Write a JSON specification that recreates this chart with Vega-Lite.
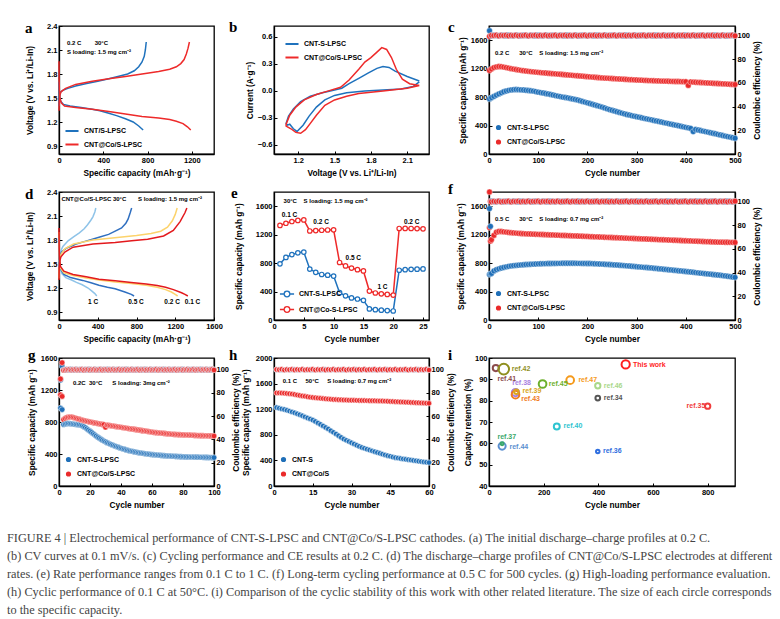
{
  "$schema": "https://vega.github.io/schema/vega-lite/v6.json",
  "padding": {"left": 7, "top": 19, "right": 5, "bottom": 5},
  "background": "white",
  "columns": 3,
  "spacing": {"row": 38, "column": 60},
  "bounds": "flush",
  "align": "each",
  "resolve": {"scale": {"color": "independent", "size": "independent"}, "legend": {"color": "independent", "size": "independent"}},
  "title": {
    "text": [
      "FIGURE 4  |  Electrochemical performance of CNT-S-LPSC and CNT@Co/S-LPSC cathodes. (a) The initial discharge–charge profiles at 0.2 C.",
      "(b) CV curves at 0.1 mV/s. (c) Cycling performance and CE results at 0.2 C. (d) The discharge–charge profiles of CNT@Co/S-LPSC electrodes at different",
      "rates. (e) Rate performance ranges from 0.1 C to 1 C. (f) Long-term cycling performance at 0.5 C for 500 cycles. (g) High-loading performance evaluation.",
      "(h) Cyclic performance of 0.1 C at 50°C. (i) Comparison of the cyclic stability of this work with other related literature. The size of each circle corresponds",
      "to the specific capacity."
    ],
    "orient": "bottom", "anchor": "start", "frame": "group", "dx": -52, "offset": 23,
    "font": "Liberation Serif", "fontSize": 12.3, "fontWeight": "normal", "color": "#444444",
    "lineHeight": 17.8, "baseline": "top"
  },
  "datasets": {
    "a": [
      {"s":"a","b":"d","c":0,"v":1.70},{"s":"a","b":"d","c":2,"v":1.58},{"s":"a","b":"d","c":5,"v":1.52},{"s":"a","b":"d","c":15,"v":1.46},{"s":"a","b":"d","c":40,"v":1.42},{"s":"a","b":"d","c":100,"v":1.40},{"s":"a","b":"d","c":200,"v":1.38},{"s":"a","b":"d","c":300,"v":1.36},{"s":"a","b":"d","c":370,"v":1.34},{"s":"a","b":"d","c":450,"v":1.31},{"s":"a","b":"d","c":520,"v":1.28},{"s":"a","b":"d","c":600,"v":1.24},{"s":"a","b":"d","c":670,"v":1.20},{"s":"a","b":"d","c":720,"v":1.15},{"s":"a","b":"d","c":760,"v":1.10},
      {"s":"a","b":"c","c":0,"v":1.40},{"s":"a","b":"c","c":3,"v":1.50},{"s":"a","b":"c","c":10,"v":1.57},{"s":"a","b":"c","c":40,"v":1.60},{"s":"a","b":"c","c":80,"v":1.62},{"s":"a","b":"c","c":150,"v":1.65},{"s":"a","b":"c","c":250,"v":1.68},{"s":"a","b":"c","c":350,"v":1.71},{"s":"a","b":"c","c":450,"v":1.74},{"s":"a","b":"c","c":550,"v":1.775},{"s":"a","b":"c","c":620,"v":1.80},{"s":"a","b":"c","c":680,"v":1.84},{"s":"a","b":"c","c":720,"v":1.89},{"s":"a","b":"c","c":750,"v":1.95},{"s":"a","b":"c","c":770,"v":2.02},{"s":"a","b":"c","c":780,"v":2.10},{"s":"a","b":"c","c":788,"v":2.20},
      {"s":"b","b":"d","c":0,"v":1.96},{"s":"b","b":"d","c":1,"v":1.75},{"s":"b","b":"d","c":3,"v":1.60},{"s":"b","b":"d","c":8,"v":1.50},{"s":"b","b":"d","c":20,"v":1.44},{"s":"b","b":"d","c":50,"v":1.40},{"s":"b","b":"d","c":150,"v":1.38},{"s":"b","b":"d","c":300,"v":1.36},{"s":"b","b":"d","c":450,"v":1.33},{"s":"b","b":"d","c":600,"v":1.30},{"s":"b","b":"d","c":750,"v":1.27},{"s":"b","b":"d","c":900,"v":1.25},{"s":"b","b":"d","c":1000,"v":1.23},{"s":"b","b":"d","c":1060,"v":1.21},{"s":"b","b":"d","c":1120,"v":1.18},{"s":"b","b":"d","c":1160,"v":1.14},{"s":"b","b":"d","c":1190,"v":1.10},
      {"s":"b","b":"c","c":0,"v":1.34},{"s":"b","b":"c","c":2,"v":1.45},{"s":"b","b":"c","c":6,"v":1.53},{"s":"b","b":"c","c":20,"v":1.58},{"s":"b","b":"c","c":60,"v":1.62},{"s":"b","b":"c","c":150,"v":1.67},{"s":"b","b":"c","c":300,"v":1.71},{"s":"b","b":"c","c":450,"v":1.74},{"s":"b","b":"c","c":600,"v":1.77},{"s":"b","b":"c","c":750,"v":1.80},{"s":"b","b":"c","c":900,"v":1.83},{"s":"b","b":"c","c":1000,"v":1.86},{"s":"b","b":"c","c":1060,"v":1.89},{"s":"b","b":"c","c":1100,"v":1.93},{"s":"b","b":"c","c":1130,"v":1.98},{"s":"b","b":"c","c":1150,"v":2.05},{"s":"b","b":"c","c":1165,"v":2.12},{"s":"b","b":"c","c":1178,"v":2.20}
    ],
    "b": [
      {"s":"a","v":2.20,"i":0.10},{"s":"a","v":2.15,"i":0.05},{"s":"a","v":2.05,"i":0.02},{"s":"a","v":1.90,"i":0.01},{"s":"a","v":1.75,"i":0.0},{"s":"a","v":1.60,"i":-0.02},{"s":"a","v":1.50,"i":-0.05},{"s":"a","v":1.42,"i":-0.10},{"s":"a","v":1.35,"i":-0.18},{"s":"a","v":1.29,"i":-0.28},{"s":"a","v":1.24,"i":-0.38},{"s":"a","v":1.19,"i":-0.45},{"s":"a","v":1.16,"i":-0.42},{"s":"a","v":1.13,"i":-0.37},{"s":"a","v":1.11,"i":-0.38},{"s":"a","v":1.10,"i":-0.36},{"s":"a","v":1.12,"i":-0.28},{"s":"a","v":1.16,"i":-0.20},{"s":"a","v":1.22,"i":-0.12},{"s":"a","v":1.30,"i":-0.06},{"s":"a","v":1.40,"i":-0.02},{"s":"a","v":1.50,"i":0.01},{"s":"a","v":1.56,"i":0.03},{"s":"a","v":1.62,"i":0.08},{"s":"a","v":1.70,"i":0.14},{"s":"a","v":1.78,"i":0.20},{"s":"a","v":1.85,"i":0.25},{"s":"a","v":1.90,"i":0.27},{"s":"a","v":1.95,"i":0.26},{"s":"a","v":2.00,"i":0.22},{"s":"a","v":2.10,"i":0.16},{"s":"a","v":2.20,"i":0.11},
      {"s":"b","v":2.20,"i":0.06},{"s":"b","v":2.10,"i":0.03},{"s":"b","v":1.90,"i":0.0},{"s":"b","v":1.70,"i":-0.03},{"s":"b","v":1.60,"i":-0.06},{"s":"b","v":1.50,"i":-0.10},{"s":"b","v":1.42,"i":-0.16},{"s":"b","v":1.35,"i":-0.27},{"s":"b","v":1.30,"i":-0.36},{"s":"b","v":1.26,"i":-0.43},{"s":"b","v":1.22,"i":-0.47},{"s":"b","v":1.18,"i":-0.46},{"s":"b","v":1.14,"i":-0.42},{"s":"b","v":1.10,"i":-0.39},{"s":"b","v":1.10,"i":-0.37},{"s":"b","v":1.13,"i":-0.27},{"s":"b","v":1.18,"i":-0.18},{"s":"b","v":1.25,"i":-0.10},{"s":"b","v":1.35,"i":-0.04},{"s":"b","v":1.45,"i":0.0},{"s":"b","v":1.55,"i":0.04},{"s":"b","v":1.62,"i":0.12},{"s":"b","v":1.70,"i":0.24},{"s":"b","v":1.75,"i":0.32},{"s":"b","v":1.80,"i":0.37},{"s":"b","v":1.85,"i":0.43},{"s":"b","v":1.89,"i":0.48},{"s":"b","v":1.93,"i":0.46},{"s":"b","v":1.97,"i":0.37},{"s":"b","v":2.01,"i":0.24},{"s":"b","v":2.06,"i":0.13},{"s":"b","v":2.12,"i":0.08},{"s":"b","v":2.20,"i":0.06}
    ],
    "c": [
      {"n":1,"a":775,"b":1175,"p":104,"q":99.2},{"n":5,"a":792,"b":1195,"p":99.8,"q":100.1},{"n":10,"a":810,"b":1215,"p":100.2,"q":99.9},{"n":15,"a":828,"b":1225,"p":100.0,"q":100.3},{"n":20,"a":845,"b":1230,"p":99.8,"q":99.7},{"n":25,"a":860,"b":1228,"p":100.2,"q":100.1},{"n":30,"a":875,"b":1222,"p":100.0,"q":99.9},{"n":35,"a":886,"b":1215,"p":99.8,"q":100.3},{"n":40,"a":895,"b":1208,"p":100.2,"q":99.7},{"n":45,"a":901,"b":1200,"p":100.0,"q":100.1},{"n":50,"a":905,"b":1194,"p":99.8,"q":99.9},
      {"n":55,"a":907,"b":1188,"p":100.2,"q":100.3},{"n":60,"a":905,"b":1182,"p":100.0,"q":99.7},{"n":65,"a":902,"b":1177,"p":99.8,"q":100.1},{"n":70,"a":900,"b":1172,"p":100.2,"q":99.9},{"n":75,"a":896,"b":1167,"p":100.0,"q":100.3},{"n":80,"a":893,"b":1163,"p":99.8,"q":99.7},{"n":85,"a":889,"b":1159,"p":100.2,"q":100.1},{"n":90,"a":885,"b":1155,"p":100.0,"q":99.9},{"n":95,"a":878,"b":1152,"p":99.8,"q":100.3},{"n":100,"a":870,"b":1148,"p":100.2,"q":99.7},
      {"n":105,"a":864,"b":1145,"p":100.0,"q":100.1},{"n":110,"a":858,"b":1142,"p":99.8,"q":99.9},{"n":115,"a":851,"b":1139,"p":100.2,"q":100.3},{"n":120,"a":845,"b":1136,"p":100.0,"q":99.7},{"n":125,"a":838,"b":1133,"p":99.8,"q":100.1},{"n":130,"a":830,"b":1130,"p":100.2,"q":99.9},{"n":135,"a":822,"b":1127,"p":100.0,"q":100.3},{"n":140,"a":815,"b":1124,"p":99.8,"q":99.7},{"n":145,"a":808,"b":1121,"p":100.2,"q":100.1},{"n":150,"a":800,"b":1118,"p":100.0,"q":99.9},
      {"n":155,"a":795,"b":1115,"p":99.8,"q":100.3},{"n":160,"a":790,"b":1112,"p":100.2,"q":99.7},{"n":165,"a":782,"b":1109,"p":100.0,"q":100.1},{"n":170,"a":775,"b":1106,"p":99.8,"q":99.9},{"n":175,"a":768,"b":1103,"p":100.2,"q":100.3},{"n":180,"a":760,"b":1100,"p":100.0,"q":99.7},{"n":185,"a":750,"b":1097,"p":99.8,"q":100.1},{"n":190,"a":740,"b":1094,"p":100.2,"q":99.9},{"n":195,"a":730,"b":1091,"p":100.0,"q":100.3},{"n":200,"a":720,"b":1088,"p":99.8,"q":99.7},
      {"n":205,"a":710,"b":1085,"p":100.2,"q":100.1},{"n":210,"a":700,"b":1082,"p":100.0,"q":99.9},{"n":215,"a":690,"b":1079,"p":99.8,"q":100.3},{"n":220,"a":680,"b":1076,"p":100.2,"q":99.7},{"n":225,"a":670,"b":1073,"p":100.0,"q":100.1},{"n":230,"a":660,"b":1070,"p":99.8,"q":99.9},{"n":235,"a":648,"b":1068,"p":100.2,"q":100.3},{"n":240,"a":635,"b":1066,"p":100.0,"q":99.7},{"n":245,"a":625,"b":1064,"p":99.8,"q":100.1},{"n":250,"a":615,"b":1062,"p":100.2,"q":99.9},
      {"n":255,"a":605,"b":1059,"p":100.0,"q":100.3},{"n":260,"a":595,"b":1057,"p":99.8,"q":99.7},{"n":265,"a":585,"b":1055,"p":100.2,"q":100.1},{"n":270,"a":575,"b":1053,"p":100.0,"q":99.9},{"n":275,"a":565,"b":1051,"p":99.8,"q":100.3},{"n":280,"a":555,"b":1049,"p":100.2,"q":99.7},{"n":285,"a":548,"b":1047,"p":100.0,"q":100.1},{"n":290,"a":540,"b":1045,"p":99.8,"q":99.9},{"n":295,"a":532,"b":1043,"p":100.2,"q":100.3},{"n":300,"a":525,"b":1041,"p":100.0,"q":99.7},
      {"n":305,"a":518,"b":1039,"p":99.8,"q":100.1},{"n":310,"a":510,"b":1038,"p":100.2,"q":99.9},{"n":315,"a":502,"b":1036,"p":100.0,"q":100.3},{"n":320,"a":495,"b":1035,"p":99.8,"q":99.7},{"n":325,"a":488,"b":1033,"p":100.2,"q":100.1},{"n":330,"a":480,"b":1032,"p":100.0,"q":99.9},{"n":335,"a":472,"b":1030,"p":99.8,"q":100.3},{"n":340,"a":465,"b":1029,"p":100.2,"q":99.7},{"n":345,"a":458,"b":1028,"p":100.0,"q":100.1},{"n":350,"a":450,"b":1026,"p":99.8,"q":99.9},
      {"n":355,"a":442,"b":1025,"p":100.2,"q":100.3},{"n":360,"a":435,"b":1024,"p":100.0,"q":99.7},{"n":365,"a":428,"b":1023,"p":99.8,"q":100.1},{"n":370,"a":420,"b":1022,"p":100.2,"q":99.9},{"n":375,"a":412,"b":1021,"p":100.0,"q":100.3},{"n":380,"a":405,"b":1020,"p":99.8,"q":99.7},{"n":385,"a":398,"b":1019,"p":100.2,"q":100.1},{"n":390,"a":390,"b":1018,"p":100.0,"q":99.9},{"n":395,"a":382,"b":1017,"p":99.8,"q":100.3},{"n":400,"a":375,"b":1016,"p":100.2,"q":99.7},
      {"n":405,"a":368,"b":965,"p":100.0,"q":100.1},{"n":410,"a":360,"b":1013,"p":99.8,"q":99.9},{"n":415,"a":315,"b":1011,"p":100.2,"q":100.3},{"n":420,"a":345,"b":1009,"p":100.0,"q":99.7},{"n":425,"a":338,"b":1007,"p":99.8,"q":100.1},{"n":430,"a":330,"b":1005,"p":100.2,"q":99.9},{"n":435,"a":322,"b":1003,"p":100.0,"q":100.3},{"n":440,"a":315,"b":1001,"p":99.8,"q":99.7},{"n":445,"a":308,"b":999,"p":100.2,"q":100.1},{"n":450,"a":300,"b":997,"p":100.0,"q":99.9},
      {"n":455,"a":292,"b":995,"p":99.8,"q":100.3},{"n":460,"a":285,"b":993,"p":100.2,"q":99.7},{"n":465,"a":276,"b":991,"p":100.0,"q":100.1},{"n":470,"a":268,"b":989,"p":99.8,"q":99.9},{"n":475,"a":260,"b":987,"p":100.2,"q":100.3},{"n":480,"a":252,"b":985,"p":100.0,"q":99.7},{"n":485,"a":245,"b":983,"p":99.8,"q":100.1},{"n":490,"a":238,"b":981,"p":100.2,"q":99.9},{"n":495,"a":230,"b":979,"p":100.0,"q":100.3},{"n":500,"a":222,"b":977,"p":99.8,"q":99.7}
    ],
    "d": [
      {"r":"1C","b":"d","c":0,"v":1.75},{"r":"1C","b":"d","c":3,"v":1.55},{"r":"1C","b":"d","c":10,"v":1.45},{"r":"1C","b":"d","c":30,"v":1.38},{"r":"1C","b":"d","c":70,"v":1.33},{"r":"1C","b":"d","c":130,"v":1.30},{"r":"1C","b":"d","c":180,"v":1.27},{"r":"1C","b":"d","c":240,"v":1.24},{"r":"1C","b":"d","c":300,"v":1.20},{"r":"1C","b":"d","c":340,"v":1.16},{"r":"1C","b":"d","c":370,"v":1.13},{"r":"1C","b":"d","c":390,"v":1.10},
      {"r":"1C","b":"c","c":0,"v":1.45},{"r":"1C","b":"c","c":3,"v":1.56},{"r":"1C","b":"c","c":10,"v":1.64},{"r":"1C","b":"c","c":40,"v":1.72},{"r":"1C","b":"c","c":94,"v":1.79},{"r":"1C","b":"c","c":150,"v":1.84},{"r":"1C","b":"c","c":210,"v":1.89},{"r":"1C","b":"c","c":260,"v":1.94},{"r":"1C","b":"c","c":295,"v":1.99},{"r":"1C","b":"c","c":330,"v":2.05},{"r":"1C","b":"c","c":350,"v":2.09},{"r":"1C","b":"c","c":370,"v":2.15},{"r":"1C","b":"c","c":380,"v":2.20},
      {"r":"05C","b":"d","c":0,"v":1.80},{"r":"05C","b":"d","c":3,"v":1.55},{"r":"05C","b":"d","c":15,"v":1.44},{"r":"05C","b":"d","c":50,"v":1.37},{"r":"05C","b":"d","c":120,"v":1.33},{"r":"05C","b":"d","c":244,"v":1.295},{"r":"05C","b":"d","c":330,"v":1.265},{"r":"05C","b":"d","c":412,"v":1.235},{"r":"05C","b":"d","c":500,"v":1.21},{"r":"05C","b":"d","c":579,"v":1.19},{"r":"05C","b":"d","c":680,"v":1.15},{"r":"05C","b":"d","c":746,"v":1.12},{"r":"05C","b":"d","c":775,"v":1.10},
      {"r":"05C","b":"c","c":0,"v":1.45},{"r":"05C","b":"c","c":3,"v":1.55},{"r":"05C","b":"c","c":10,"v":1.61},{"r":"05C","b":"c","c":27,"v":1.65},{"r":"05C","b":"c","c":80,"v":1.70},{"r":"05C","b":"c","c":177,"v":1.75},{"r":"05C","b":"c","c":260,"v":1.78},{"r":"05C","b":"c","c":345,"v":1.81},{"r":"05C","b":"c","c":430,"v":1.84},{"r":"05C","b":"c","c":512,"v":1.87},{"r":"05C","b":"c","c":580,"v":1.91},{"r":"05C","b":"c","c":646,"v":1.95},{"r":"05C","b":"c","c":690,"v":2.01},{"r":"05C","b":"c","c":713,"v":2.06},{"r":"05C","b":"c","c":735,"v":2.14},{"r":"05C","b":"c","c":750,"v":2.20},
      {"r":"02C","b":"d","c":0,"v":1.90},{"r":"02C","b":"d","c":2,"v":1.68},{"r":"02C","b":"d","c":5,"v":1.54},{"r":"02C","b":"d","c":15,"v":1.45},{"r":"02C","b":"d","c":50,"v":1.39},{"r":"02C","b":"d","c":145,"v":1.355},{"r":"02C","b":"d","c":280,"v":1.325},{"r":"02C","b":"d","c":412,"v":1.30},{"r":"02C","b":"d","c":580,"v":1.275},{"r":"02C","b":"d","c":746,"v":1.255},{"r":"02C","b":"d","c":900,"v":1.235},{"r":"02C","b":"d","c":1014,"v":1.21},{"r":"02C","b":"d","c":1100,"v":1.18},{"r":"02C","b":"d","c":1160,"v":1.15},{"r":"02C","b":"d","c":1200,"v":1.12},{"r":"02C","b":"d","c":1225,"v":1.10},
      {"r":"02C","b":"c","c":0,"v":1.32},{"r":"02C","b":"c","c":2,"v":1.45},{"r":"02C","b":"c","c":6,"v":1.55},{"r":"02C","b":"c","c":20,"v":1.62},{"r":"02C","b":"c","c":60,"v":1.69},{"r":"02C","b":"c","c":150,"v":1.75},{"r":"02C","b":"c","c":350,"v":1.80},{"r":"02C","b":"c","c":600,"v":1.83},{"r":"02C","b":"c","c":800,"v":1.855},{"r":"02C","b":"c","c":950,"v":1.88},{"r":"02C","b":"c","c":1050,"v":1.91},{"r":"02C","b":"c","c":1120,"v":1.96},{"r":"02C","b":"c","c":1170,"v":2.04},{"r":"02C","b":"c","c":1200,"v":2.12},{"r":"02C","b":"c","c":1220,"v":2.20},
      {"r":"01C","b":"d","c":0,"v":1.95},{"r":"01C","b":"d","c":2,"v":1.70},{"r":"01C","b":"d","c":5,"v":1.56},{"r":"01C","b":"d","c":15,"v":1.47},{"r":"01C","b":"d","c":50,"v":1.41},{"r":"01C","b":"d","c":145,"v":1.37},{"r":"01C","b":"d","c":280,"v":1.34},{"r":"01C","b":"d","c":412,"v":1.31},{"r":"01C","b":"d","c":580,"v":1.29},{"r":"01C","b":"d","c":746,"v":1.27},{"r":"01C","b":"d","c":900,"v":1.25},{"r":"01C","b":"d","c":1014,"v":1.23},{"r":"01C","b":"d","c":1100,"v":1.21},{"r":"01C","b":"d","c":1181,"v":1.18},{"r":"01C","b":"d","c":1265,"v":1.14},{"r":"01C","b":"d","c":1300,"v":1.12},{"r":"01C","b":"d","c":1330,"v":1.10},
      {"r":"01C","b":"c","c":0,"v":1.30},{"r":"01C","b":"c","c":2,"v":1.45},{"r":"01C","b":"c","c":6,"v":1.53},{"r":"01C","b":"c","c":20,"v":1.59},{"r":"01C","b":"c","c":60,"v":1.65},{"r":"01C","b":"c","c":145,"v":1.71},{"r":"01C","b":"c","c":350,"v":1.75},{"r":"01C","b":"c","c":580,"v":1.77},{"r":"01C","b":"c","c":750,"v":1.79},{"r":"01C","b":"c","c":915,"v":1.81},{"r":"01C","b":"c","c":1080,"v":1.85},{"r":"01C","b":"c","c":1180,"v":1.92},{"r":"01C","b":"c","c":1250,"v":2.03},{"r":"01C","b":"c","c":1300,"v":2.14},{"r":"01C","b":"c","c":1320,"v":2.20}
    ],
    "e": [
      {"n":1,"a":790,"b":1330},{"n":2,"a":880,"b":1360},{"n":3,"a":920,"b":1385},{"n":4,"a":945,"b":1400},{"n":5,"a":955,"b":1408},
      {"n":6,"a":716,"b":1252},{"n":7,"a":670,"b":1258},{"n":8,"a":640,"b":1262},{"n":9,"a":630,"b":1266},{"n":10,"a":618,"b":1268},
      {"n":11,"a":384,"b":809},{"n":12,"a":340,"b":760},{"n":13,"a":310,"b":730},{"n":14,"a":295,"b":708},{"n":15,"a":276,"b":690},
      {"n":16,"a":156,"b":407},{"n":17,"a":145,"b":380},{"n":18,"a":138,"b":368},{"n":19,"a":132,"b":360},{"n":20,"a":127,"b":351},
      {"n":21,"a":700,"b":1287},{"n":22,"a":708,"b":1288},{"n":23,"a":712,"b":1287},{"n":24,"a":715,"b":1285},{"n":25,"a":718,"b":1282}
    ],
    "f": [
      {"n":1,"a":640,"b":1300,"p":94,"q":108},{"n":3,"a":650,"b":1110,"p":79,"q":100.3},{"n":5,"a":655,"b":1130,"p":100.2,"q":99.7},{"n":10,"a":690,"b":1190,"p":100.0,"q":100.1},{"n":15,"a":708,"b":1235,"p":99.8,"q":99.9},{"n":20,"a":720,"b":1245,"p":100.2,"q":100.3},{"n":25,"a":731,"b":1245,"p":100.0,"q":99.7},{"n":30,"a":740,"b":1240,"p":99.8,"q":100.1},{"n":35,"a":748,"b":1236,"p":100.2,"q":99.9},{"n":40,"a":755,"b":1232,"p":100.0,"q":100.3},{"n":45,"a":760,"b":1228,"p":99.8,"q":99.7},{"n":50,"a":765,"b":1225,"p":100.2,"q":100.1},
      {"n":55,"a":768,"b":1222,"p":100.0,"q":99.9},{"n":60,"a":771,"b":1219,"p":99.8,"q":100.3},{"n":65,"a":774,"b":1216,"p":100.2,"q":99.7},{"n":70,"a":777,"b":1214,"p":100.0,"q":100.1},{"n":75,"a":780,"b":1212,"p":99.8,"q":99.9},{"n":80,"a":782,"b":1210,"p":100.2,"q":100.3},{"n":85,"a":784,"b":1209,"p":100.0,"q":99.7},{"n":90,"a":786,"b":1207,"p":99.8,"q":100.1},{"n":95,"a":788,"b":1206,"p":100.2,"q":99.9},{"n":100,"a":790,"b":1205,"p":100.0,"q":100.3},
      {"n":105,"a":791,"b":1203,"p":99.8,"q":99.7},{"n":110,"a":792,"b":1202,"p":100.2,"q":100.1},{"n":115,"a":793,"b":1200,"p":100.0,"q":99.9},{"n":120,"a":794,"b":1199,"p":99.8,"q":100.3},{"n":125,"a":795,"b":1197,"p":100.2,"q":99.7},{"n":130,"a":796,"b":1196,"p":100.0,"q":100.1},{"n":135,"a":796,"b":1194,"p":99.8,"q":99.9},{"n":140,"a":797,"b":1193,"p":100.2,"q":100.3},{"n":145,"a":797,"b":1191,"p":100.0,"q":99.7},{"n":150,"a":798,"b":1190,"p":99.8,"q":100.1},
      {"n":155,"a":798,"b":1188,"p":100.2,"q":99.9},{"n":160,"a":798,"b":1187,"p":100.0,"q":100.3},{"n":165,"a":798,"b":1185,"p":99.8,"q":99.7},{"n":170,"a":798,"b":1184,"p":100.2,"q":100.1},{"n":175,"a":798,"b":1182,"p":100.0,"q":99.9},{"n":180,"a":797,"b":1181,"p":99.8,"q":100.3},{"n":185,"a":797,"b":1179,"p":100.2,"q":99.7},{"n":190,"a":796,"b":1178,"p":100.0,"q":100.1},{"n":195,"a":796,"b":1176,"p":99.8,"q":99.9},{"n":200,"a":795,"b":1175,"p":100.2,"q":100.3},
      {"n":205,"a":794,"b":1173,"p":100.0,"q":99.7},{"n":210,"a":793,"b":1172,"p":99.8,"q":100.1},{"n":215,"a":791,"b":1170,"p":100.2,"q":99.9},{"n":220,"a":790,"b":1169,"p":100.0,"q":100.3},{"n":225,"a":788,"b":1167,"p":99.8,"q":99.7},{"n":230,"a":786,"b":1166,"p":100.2,"q":100.1},{"n":235,"a":784,"b":1164,"p":100.0,"q":99.9},{"n":240,"a":782,"b":1163,"p":99.8,"q":100.3},{"n":245,"a":780,"b":1161,"p":100.2,"q":99.7},{"n":250,"a":778,"b":1160,"p":100.0,"q":100.1},
      {"n":255,"a":775,"b":1158,"p":99.8,"q":99.9},{"n":260,"a":773,"b":1157,"p":100.2,"q":100.3},{"n":265,"a":770,"b":1155,"p":100.0,"q":99.7},{"n":270,"a":768,"b":1154,"p":99.8,"q":100.1},{"n":275,"a":765,"b":1152,"p":100.2,"q":99.9},{"n":280,"a":762,"b":1151,"p":100.0,"q":100.3},{"n":285,"a":759,"b":1149,"p":99.8,"q":99.7},{"n":290,"a":756,"b":1148,"p":100.2,"q":100.1},{"n":295,"a":753,"b":1146,"p":100.0,"q":99.9},{"n":300,"a":750,"b":1145,"p":99.8,"q":100.3},
      {"n":305,"a":747,"b":1143,"p":100.2,"q":99.7},{"n":310,"a":744,"b":1142,"p":100.0,"q":100.1},{"n":315,"a":741,"b":1140,"p":99.8,"q":99.9},{"n":320,"a":738,"b":1139,"p":100.2,"q":100.3},{"n":325,"a":735,"b":1137,"p":100.0,"q":99.7},{"n":330,"a":732,"b":1136,"p":99.8,"q":100.1},{"n":335,"a":728,"b":1134,"p":100.2,"q":99.9},{"n":340,"a":725,"b":1133,"p":100.0,"q":100.3},{"n":345,"a":721,"b":1131,"p":99.8,"q":99.7},{"n":350,"a":718,"b":1130,"p":100.2,"q":100.1},
      {"n":355,"a":714,"b":1128,"p":100.0,"q":99.9},{"n":360,"a":711,"b":1127,"p":99.8,"q":100.3},{"n":365,"a":707,"b":1125,"p":100.2,"q":99.7},{"n":370,"a":704,"b":1124,"p":100.0,"q":100.1},{"n":375,"a":700,"b":1122,"p":99.8,"q":99.9},{"n":380,"a":697,"b":1121,"p":100.2,"q":100.3},{"n":385,"a":693,"b":1119,"p":100.0,"q":99.7},{"n":390,"a":690,"b":1118,"p":99.8,"q":100.1},{"n":395,"a":686,"b":1116,"p":100.2,"q":99.9},{"n":400,"a":682,"b":1115,"p":100.0,"q":100.3},
      {"n":405,"a":678,"b":1113,"p":99.8,"q":99.7},{"n":410,"a":675,"b":1112,"p":100.2,"q":100.1},{"n":415,"a":671,"b":1110,"p":100.0,"q":99.9},{"n":420,"a":667,"b":1109,"p":99.8,"q":100.3},{"n":425,"a":663,"b":1107,"p":100.2,"q":99.7},{"n":430,"a":659,"b":1106,"p":100.0,"q":100.1},{"n":435,"a":656,"b":1104,"p":99.8,"q":99.9},{"n":440,"a":652,"b":1103,"p":100.2,"q":100.3},{"n":445,"a":648,"b":1101,"p":100.0,"q":99.7},{"n":450,"a":644,"b":1100,"p":99.8,"q":100.1},
      {"n":455,"a":640,"b":1098,"p":100.2,"q":99.9},{"n":460,"a":636,"b":1097,"p":100.0,"q":100.3},{"n":465,"a":633,"b":1096,"p":99.8,"q":99.7},{"n":470,"a":629,"b":1095,"p":100.2,"q":100.1},{"n":475,"a":625,"b":1094,"p":100.0,"q":99.9},{"n":480,"a":620,"b":1093,"p":99.8,"q":100.3},{"n":485,"a":615,"b":1093,"p":100.2,"q":99.7},{"n":490,"a":610,"b":1092,"p":100.0,"q":100.1},{"n":495,"a":605,"b":1092,"p":99.8,"q":99.9},{"n":500,"a":600,"b":1091,"p":100.2,"q":100.3}
    ],
    "g": [
      {"n":1,"a":975,"b":1140,"p":91,"q":92},{"n":2,"a":955,"b":1120,"p":103,"q":106},{"n":3,"a":770,"b":830,"p":100.0,"q":99.5},{"n":4,"a":775,"b":845,"p":99.8,"q":99.7},{"n":5,"a":780,"b":855,"p":100.2,"q":100.1},{"n":6,"a":782,"b":860,"p":100.0,"q":99.9},{"n":7,"a":780,"b":862,"p":99.8,"q":100.3},{"n":8,"a":778,"b":862,"p":100.2,"q":99.7},{"n":9,"a":775,"b":858,"p":100.0,"q":100.1},{"n":10,"a":772,"b":853,"p":99.8,"q":99.9},
      {"n":11,"a":770,"b":847,"p":100.2,"q":100.3},{"n":12,"a":768,"b":841,"p":100.0,"q":99.7},{"n":13,"a":765,"b":835,"p":99.8,"q":100.1},{"n":14,"a":760,"b":829,"p":100.2,"q":99.9},{"n":15,"a":752,"b":824,"p":100.0,"q":100.3},{"n":16,"a":742,"b":819,"p":99.8,"q":99.7},{"n":17,"a":730,"b":814,"p":100.2,"q":100.1},{"n":18,"a":715,"b":809,"p":100.0,"q":99.9},{"n":19,"a":700,"b":805,"p":99.8,"q":100.3},{"n":20,"a":685,"b":801,"p":100.2,"q":99.7},
      {"n":21,"a":670,"b":797,"p":100.0,"q":100.1},{"n":22,"a":655,"b":793,"p":99.8,"q":99.9},{"n":23,"a":640,"b":789,"p":100.2,"q":100.3},{"n":24,"a":625,"b":785,"p":100.0,"q":99.7},{"n":25,"a":610,"b":781,"p":99.8,"q":100.1},{"n":26,"a":598,"b":777,"p":100.2,"q":99.9},{"n":27,"a":585,"b":773,"p":100.0,"q":100.3},{"n":28,"a":573,"b":770,"p":99.8,"q":99.7},{"n":29,"a":562,"b":767,"p":100.2,"q":100.1},{"n":30,"a":552,"b":735,"p":100.0,"q":99.9},
      {"n":31,"a":542,"b":761,"p":99.8,"q":100.3},{"n":32,"a":533,"b":758,"p":100.2,"q":99.7},{"n":33,"a":524,"b":755,"p":100.0,"q":100.1},{"n":34,"a":516,"b":752,"p":99.8,"q":99.9},{"n":35,"a":508,"b":749,"p":100.2,"q":100.3},{"n":36,"a":500,"b":746,"p":100.0,"q":99.7},{"n":37,"a":493,"b":743,"p":99.8,"q":100.1},{"n":38,"a":486,"b":740,"p":100.2,"q":99.9},{"n":39,"a":479,"b":737,"p":100.0,"q":100.3},{"n":40,"a":472,"b":734,"p":99.8,"q":99.7},
      {"n":41,"a":466,"b":731,"p":100.2,"q":100.1},{"n":42,"a":460,"b":728,"p":100.0,"q":99.9},{"n":43,"a":454,"b":725,"p":99.8,"q":100.3},{"n":44,"a":448,"b":722,"p":100.2,"q":99.7},{"n":45,"a":443,"b":719,"p":100.0,"q":100.1},{"n":46,"a":438,"b":716,"p":99.8,"q":99.9},{"n":47,"a":434,"b":713,"p":100.2,"q":100.3},{"n":48,"a":430,"b":710,"p":100.0,"q":99.7},{"n":49,"a":426,"b":707,"p":99.8,"q":100.1},{"n":50,"a":422,"b":704,"p":100.2,"q":99.9},
      {"n":51,"a":418,"b":701,"p":100.0,"q":100.3},{"n":52,"a":415,"b":698,"p":99.8,"q":99.7},{"n":53,"a":412,"b":695,"p":100.2,"q":100.1},{"n":54,"a":409,"b":692,"p":100.0,"q":99.9},{"n":55,"a":406,"b":689,"p":99.8,"q":100.3},{"n":56,"a":403,"b":686,"p":100.2,"q":99.7},{"n":57,"a":400,"b":683,"p":100.0,"q":100.1},{"n":58,"a":398,"b":680,"p":99.8,"q":99.9},{"n":59,"a":396,"b":677,"p":100.2,"q":100.3},{"n":60,"a":394,"b":674,"p":100.0,"q":99.7},
      {"n":61,"a":392,"b":671,"p":99.8,"q":100.1},{"n":62,"a":390,"b":669,"p":100.2,"q":99.9},{"n":63,"a":388,"b":667,"p":100.0,"q":100.3},{"n":64,"a":386,"b":665,"p":99.8,"q":99.7},{"n":65,"a":384,"b":663,"p":100.2,"q":100.1},{"n":66,"a":382,"b":661,"p":100.0,"q":99.9},{"n":67,"a":381,"b":659,"p":99.8,"q":100.3},{"n":68,"a":379,"b":657,"p":100.2,"q":99.7},{"n":69,"a":378,"b":655,"p":100.0,"q":100.1},{"n":70,"a":376,"b":653,"p":99.8,"q":99.9},
      {"n":71,"a":375,"b":651,"p":100.2,"q":100.3},{"n":72,"a":374,"b":649,"p":100.0,"q":99.7},{"n":73,"a":373,"b":647,"p":99.8,"q":100.1},{"n":74,"a":372,"b":646,"p":100.2,"q":99.9},{"n":75,"a":371,"b":645,"p":100.0,"q":100.3},{"n":76,"a":370,"b":644,"p":99.8,"q":99.7},{"n":77,"a":369,"b":643,"p":100.2,"q":100.1},{"n":78,"a":368,"b":642,"p":100.0,"q":99.9},{"n":79,"a":367,"b":641,"p":99.8,"q":100.3},{"n":80,"a":366,"b":640,"p":100.2,"q":99.7},
      {"n":81,"a":365,"b":639,"p":100.0,"q":100.1},{"n":82,"a":364,"b":638,"p":99.8,"q":99.9},{"n":83,"a":364,"b":637,"p":100.2,"q":100.3},{"n":84,"a":363,"b":636,"p":100.0,"q":99.7},{"n":85,"a":362,"b":635,"p":99.8,"q":100.1},{"n":86,"a":362,"b":634,"p":100.2,"q":99.9},{"n":87,"a":361,"b":633,"p":100.0,"q":100.3},{"n":88,"a":361,"b":632,"p":99.8,"q":99.7},{"n":89,"a":360,"b":631,"p":100.2,"q":100.1},{"n":90,"a":360,"b":630,"p":100.0,"q":99.9},
      {"n":91,"a":359,"b":630,"p":99.8,"q":100.3},{"n":92,"a":359,"b":629,"p":100.2,"q":99.7},{"n":93,"a":358,"b":629,"p":100.0,"q":100.1},{"n":94,"a":358,"b":628,"p":99.8,"q":99.9},{"n":95,"a":357,"b":628,"p":100.2,"q":100.3},{"n":96,"a":357,"b":627,"p":100.0,"q":99.7},{"n":97,"a":356,"b":627,"p":99.8,"q":100.1},{"n":98,"a":356,"b":626,"p":100.2,"q":99.9},{"n":99,"a":355,"b":626,"p":100.0,"q":100.3},{"n":100,"a":355,"b":625,"p":99.8,"q":99.7}
    ],
    "h": [
      {"n":1,"a":1225,"b":1455,"p":99.8,"q":100.1},{"n":2,"a":1215,"b":1455,"p":100.2,"q":99.9},{"n":3,"a":1205,"b":1452,"p":100.0,"q":100.3},{"n":4,"a":1195,"b":1450,"p":99.8,"q":99.7},{"n":5,"a":1183,"b":1446,"p":100.2,"q":100.1},{"n":6,"a":1170,"b":1442,"p":100.0,"q":99.9},{"n":7,"a":1157,"b":1437,"p":99.8,"q":100.3},{"n":8,"a":1143,"b":1430,"p":100.2,"q":99.7},{"n":9,"a":1128,"b":1422,"p":100.0,"q":100.1},{"n":10,"a":1113,"b":1415,"p":99.8,"q":99.9},
      {"n":11,"a":1097,"b":1408,"p":100.2,"q":100.3},{"n":12,"a":1080,"b":1401,"p":100.0,"q":99.7},{"n":13,"a":1063,"b":1394,"p":99.8,"q":100.1},{"n":14,"a":1047,"b":1388,"p":100.2,"q":99.9},{"n":15,"a":1030,"b":1383,"p":100.0,"q":100.3},{"n":16,"a":1008,"b":1378,"p":99.8,"q":99.7},{"n":17,"a":985,"b":1374,"p":100.2,"q":100.1},{"n":18,"a":962,"b":1370,"p":100.0,"q":99.9},{"n":19,"a":938,"b":1366,"p":99.8,"q":100.3},{"n":20,"a":914,"b":1362,"p":100.2,"q":99.7},
      {"n":21,"a":890,"b":1359,"p":100.0,"q":100.1},{"n":22,"a":864,"b":1356,"p":99.8,"q":99.9},{"n":23,"a":838,"b":1353,"p":100.2,"q":100.3},{"n":24,"a":812,"b":1351,"p":100.0,"q":99.7},{"n":25,"a":786,"b":1349,"p":99.8,"q":100.1},{"n":26,"a":759,"b":1347,"p":100.2,"q":99.9},{"n":27,"a":733,"b":1345,"p":100.0,"q":100.3},{"n":28,"a":713,"b":1343,"p":99.8,"q":99.7},{"n":29,"a":694,"b":1341,"p":100.2,"q":100.1},{"n":30,"a":675,"b":1340,"p":100.0,"q":99.9},
      {"n":31,"a":656,"b":1339,"p":99.8,"q":100.3},{"n":32,"a":637,"b":1338,"p":100.2,"q":99.7},{"n":33,"a":619,"b":1337,"p":100.0,"q":100.1},{"n":34,"a":602,"b":1336,"p":99.8,"q":99.9},{"n":35,"a":588,"b":1335,"p":100.2,"q":100.3},{"n":36,"a":575,"b":1334,"p":100.0,"q":99.7},{"n":37,"a":562,"b":1333,"p":99.8,"q":100.1},{"n":38,"a":549,"b":1332,"p":100.2,"q":99.9},{"n":39,"a":536,"b":1331,"p":100.0,"q":100.3},{"n":40,"a":523,"b":1330,"p":99.8,"q":99.7},
      {"n":41,"a":510,"b":1329,"p":100.2,"q":100.1},{"n":42,"a":498,"b":1328,"p":100.0,"q":99.9},{"n":43,"a":486,"b":1326,"p":99.8,"q":100.3},{"n":44,"a":474,"b":1324,"p":100.2,"q":99.7},{"n":45,"a":463,"b":1322,"p":100.0,"q":100.1},{"n":46,"a":452,"b":1320,"p":99.8,"q":99.9},{"n":47,"a":443,"b":1318,"p":100.2,"q":100.3},{"n":48,"a":436,"b":1316,"p":100.0,"q":99.7},{"n":49,"a":429,"b":1314,"p":99.8,"q":100.1},{"n":50,"a":423,"b":1312,"p":100.2,"q":99.9},
      {"n":51,"a":417,"b":1310,"p":100.0,"q":100.3},{"n":52,"a":411,"b":1308,"p":99.8,"q":99.7},{"n":53,"a":405,"b":1306,"p":100.2,"q":100.1},{"n":54,"a":399,"b":1304,"p":100.0,"q":99.9},{"n":55,"a":393,"b":1302,"p":99.8,"q":100.3},{"n":56,"a":387,"b":1300,"p":100.2,"q":99.7},{"n":57,"a":381,"b":1298,"p":100.0,"q":100.1},{"n":58,"a":376,"b":1296,"p":99.8,"q":99.9},{"n":59,"a":371,"b":1294,"p":100.2,"q":100.3},{"n":60,"a":366,"b":1292,"p":100.0,"q":99.7}
    ],
    "i": [
      {"ref":"This work","n":500,"r":97.0,"cap":1010},{"ref":"ref.41","n":25,"r":95.3,"cap":760},{"ref":"ref.42","n":54,"r":94.8,"cap":1300},{"ref":"ref.38","n":97,"r":83.8,"cap":900},{"ref":"ref.43","n":97,"r":82.8,"cap":940},{"ref":"ref.39","n":100,"r":84.2,"cap":540},{"ref":"ref.45","n":196,"r":87.8,"cap":940},{"ref":"ref.47","n":297,"r":89.6,"cap":940},{"ref":"ref.46","n":398,"r":87.0,"cap":650},{"ref":"ref.34","n":398,"r":81.2,"cap":580},{"ref":"ref.35","n":800,"r":77.4,"cap":650},{"ref":"ref.40","n":248,"r":67.9,"cap":725},{"ref":"ref.44","n":48,"r":58.7,"cap":870},{"ref":"ref.37","n":48,"r":59.8,"cap":360},{"ref":"ref.36","n":398,"r":56.2,"cap":435}
    ],
    "il": [
      {"ref":"This work","lx":527,"ly":96.8},{"ref":"ref.42","lx":83,"ly":95.0},{"ref":"ref.41","lx":31,"ly":90.3},{"ref":"ref.38","lx":85,"ly":88.3},{"ref":"ref.39","lx":123,"ly":84.6},{"ref":"ref.43","lx":118,"ly":80.9},{"ref":"ref.45","lx":219,"ly":87.8},{"ref":"ref.47","lx":327,"ly":89.6},{"ref":"ref.46","lx":420,"ly":86.8},{"ref":"ref.34","lx":420,"ly":81.3},{"ref":"ref.35","lx":723,"ly":77.4},{"ref":"ref.40","lx":273,"ly":68.1},{"ref":"ref.37","lx":31,"ly":63.2},{"ref":"ref.44","lx":75,"ly":58.5},{"ref":"ref.36","lx":417,"ly":56.4}
    ]
  },
  "concat": [
    {
      "width": 155, "height": 128,
      "title": {"text": "a", "dx": -34, "offset": -13.5},
      "layer": [
        {
          "data": {"name": "a"},
          "mark": {"type": "line", "strokeWidth": 1.5},
          "encoding": {
            "x": {"field": "c", "type": "quantitative", "scale": {"domain": [0, 1400]}, "axis": {"values": [0, 400, 800, 1200], "tickCount": 20, "format": "d", "title": "Specific capacity (mAh·g⁻¹)"}},
            "y": {"field": "v", "type": "quantitative", "scale": {"domain": [0.9, 2.4]}, "axis": {"values": [0.9, 1.2, 1.5, 1.8, 2.1, 2.4], "tickCount": 20, "format": ".1f", "title": "Voltage (V vs. Li⁺/Li-In)", "titlePadding": 12}},
            "color": {"field": "s", "type": "nominal", "scale": {"domain": ["a", "b"], "range": ["#1f72bd", "#ee2a2a"]}, "legend": {"title": null, "orient": "bottom-left", "symbolType": "stroke", "symbolStrokeWidth": 2, "symbolSize": 170, "labelExpr": "datum.value == 'a' ? 'CNT/S-LPSC' : 'CNT@Co/S-LPSC'"}},
            "detail": {"field": "b"},
            "order": {"value": null}
          }
        },
        {"data": {"values": [{"t": "0.2 C\u00a0\u00a0\u00a0\u00a0\u00a0\u00a0\u00a0\u00a030°C", "x": 72, "y": 2.19}, {"t": "S loading: 1.5 mg cm⁻²", "x": 72, "y": 2.07}]}, "mark": {"type": "text", "align": "left"}, "encoding": {"x": {"field": "x", "type": "quantitative"}, "y": {"field": "y", "type": "quantitative"}, "text": {"field": "t"}}}
      ]
    },
    {
      "width": 155, "height": 128,
      "title": {"text": "b", "dx": -45, "offset": -9},
      "data": {"name": "b"},
      "mark": {"type": "line", "strokeWidth": 1.5},
      "encoding": {
        "x": {"field": "v", "type": "quantitative", "scale": {"domain": [1.0, 2.28]}, "axis": {"values": [1.2, 1.5, 1.8, 2.1], "tickCount": 20, "format": ".1f", "title": "Voltage (V vs. Li⁺/Li-In)"}},
        "y": {"field": "i", "type": "quantitative", "scale": {"domain": [-0.7, 0.72]}, "axis": {"values": [-0.6, -0.3, 0, 0.3, 0.6], "tickCount": 20, "format": ".1f", "title": "Current (A·g⁻¹)", "titlePadding": 3}},
        "color": {"field": "s", "type": "nominal", "scale": {"domain": ["a", "b"], "range": ["#1f72bd", "#ee2a2a"]}, "legend": {"title": null, "orient": "top-left", "offset": 10, "symbolType": "stroke", "symbolStrokeWidth": 2, "symbolSize": 170, "labelExpr": "datum.value == 'a' ? 'CNT-S-LPSC' : 'CNT@Co/S-LPSC'"}},
        "order": {"value": null}
      }
    },
    {
      "width": 246, "height": 128,
      "title": {"text": "c", "dx": -41, "offset": -9},
      "layer": [
        {
          "data": {"name": "c"},
          "transform": [{"fold": ["a", "b"], "as": ["s", "cap"]}],
          "mark": {"type": "point", "filled": true, "size": 34, "stroke": "white", "strokeWidth": 0.4, "opacity": 1},
          "encoding": {
            "x": {"field": "n", "type": "quantitative", "scale": {"domain": [0, 500]}, "axis": {"values": [0, 100, 200, 300, 400, 500], "tickCount": 20, "format": "d", "title": "Cycle number"}},
            "y": {"field": "cap", "type": "quantitative", "scale": {"domain": [0, 1800]}, "axis": {"values": [0, 400, 800, 1200, 1600], "tickCount": 20, "format": "d", "title": "Specific capacity (mAh g⁻¹)", "titlePadding": 3}},
            "color": {"field": "s", "type": "nominal", "scale": {"domain": ["a", "b"], "range": ["#1f6fb8", "#ea2a2a"]}, "legend": {"title": null, "orient": "bottom-left", "symbolType": "circle", "symbolSize": 45, "labelExpr": "datum.value == 'a' ? 'CNT-S-LPSC' : 'CNT@Co/S-LPSC'"}}
          }
        },
        {
          "data": {"name": "c"},
          "transform": [{"fold": ["p", "q"], "as": ["s2", "ce"]}],
          "mark": {"type": "point", "filled": true, "size": 34, "stroke": "white", "strokeWidth": 0.4, "opacity": 1},
          "encoding": {
            "x": {"field": "n", "type": "quantitative"},
            "y": {"field": "ce", "type": "quantitative", "scale": {"domain": [0, 108]}, "axis": {"orient": "right", "values": [0, 20, 40, 60, 80, 100], "tickCount": 20, "format": "d", "title": "Coulombic efficiency (%)", "titleAngle": 270, "titleBaseline": "top", "titlePadding": 3}},
            "color": {"field": "s2", "type": "nominal", "scale": {"domain": ["p", "q"], "range": ["#1f6fb8", "#ea2a2a"]}, "legend": null}
          }
        },
        {"data": {"values": [{"t": "0.2 C\u00a0\u00a0\u00a0\u00a0\u00a0\u00a030°C\u00a0\u00a0\u00a0\u00a0S loading: 1.5 mg cm⁻²", "x": 12, "y": 1420}]}, "mark": {"type": "text", "align": "left"}, "encoding": {"x": {"field": "x", "type": "quantitative"}, "y": {"field": "y", "type": "quantitative", "scale": {"domain": [0, 1800]}, "axis": null}, "text": {"field": "t"}}}
      ],
      "resolve": {"scale": {"y": "independent", "color": "independent"}}
    },
    {
      "width": 155, "height": 128,
      "title": {"text": "d", "dx": -34, "offset": -13.5},
      "layer": [
        {
          "data": {"name": "d"},
          "mark": {"type": "line", "strokeWidth": 1.5},
          "encoding": {
            "x": {"field": "c", "type": "quantitative", "scale": {"domain": [0, 1600]}, "axis": {"values": [0, 400, 800, 1200, 1600], "tickCount": 20, "format": "d", "title": "Specific capacity (mAh·g⁻¹)"}},
            "y": {"field": "v", "type": "quantitative", "scale": {"domain": [0.9, 2.4]}, "axis": {"values": [0.9, 1.2, 1.5, 1.8, 2.1, 2.4], "tickCount": 20, "format": ".1f", "title": "Voltage (V vs. Li⁺/Li-In)", "titlePadding": 12}},
            "color": {"field": "r", "type": "nominal", "scale": {"domain": ["1C", "05C", "02C", "01C"], "range": ["#8ec3e8", "#2f6fc0", "#fcd36c", "#e3191d"]}, "legend": null},
            "detail": {"field": "b"},
            "order": {"value": null}
          }
        },
        {
          "data": {"values": [{"t": "1 C", "c": 352, "v": 1.03}, {"t": "0.5 C", "c": 795, "v": 1.03}, {"t": "0.2 C", "c": 1167, "v": 1.03}, {"t": "0.1 C", "c": 1378, "v": 1.03}]},
          "mark": {"type": "text", "fontSize": 6.5},
          "encoding": {"x": {"field": "c", "type": "quantitative"}, "y": {"field": "v", "type": "quantitative"}, "text": {"field": "t"}}
        },
        {
          "data": {"values": [{"t": "CNT@Co/S-LPSC\u00a030°C\u00a0\u00a0\u00a0\u00a0\u00a0\u00a0\u00a0S loading: 1.5 mg cm⁻²", "c": 25, "v": 2.31}]},
          "mark": {"type": "text", "align": "left"},
          "encoding": {"x": {"field": "c", "type": "quantitative"}, "y": {"field": "v", "type": "quantitative"}, "text": {"field": "t"}}
        }
      ]
    },
    {
      "width": 155, "height": 128,
      "title": {"text": "e", "dx": -43, "offset": -9},
      "layer": [
        {
          "data": {"name": "e"},
          "transform": [{"fold": ["a", "b"], "as": ["s", "cap"]}],
          "mark": {"type": "line", "strokeWidth": 1.5},
          "encoding": {
            "x": {"field": "n", "type": "quantitative", "scale": {"domain": [0, 25.8]}, "axis": {"values": [0, 5, 10, 15, 20, 25], "tickCount": 20, "format": "d", "title": "Cycle number"}},
            "y": {"field": "cap", "type": "quantitative", "scale": {"domain": [0, 1800]}, "axis": {"values": [0, 400, 800, 1200, 1600], "tickCount": 20, "format": "d", "title": "Specific capacity (mAh g⁻¹)", "titlePadding": 12}},
            "color": {"field": "s", "type": "nominal", "scale": {"domain": ["a", "b"], "range": ["#1f72bd", "#ee2a2a"]}, "legend": {"title": null, "orient": "bottom-left", "symbolType": "M-1,0H-0.4M0.4,0H1M0.4,0A0.4,0.4,0,1,1,-0.4,0A0.4,0.4,0,1,1,0.4,0", "symbolSize": 200, "symbolStrokeWidth": 1.3, "symbolFillColor": "white", "labelExpr": "datum.value == 'a' ? 'CNT-S-LPSC' : 'CNT@Co-S-LPSC'"}}
          }
        },
        {
          "data": {"name": "e"},
          "transform": [{"fold": ["a", "b"], "as": ["s", "cap"]}],
          "mark": {"type": "point", "filled": false, "fill": "white", "size": 20, "strokeWidth": 1.2, "opacity": 1},
          "encoding": {
            "x": {"field": "n", "type": "quantitative"},
            "y": {"field": "cap", "type": "quantitative"},
            "color": {"field": "s", "type": "nominal"}
          }
        },
        {
          "data": {"values": [{"t": "0.1 C", "n": 2.6, "c": 1474}, {"t": "0.2 C", "n": 7.9, "c": 1380}, {"t": "0.5 C", "n": 13.3, "c": 865}, {"t": "1 C", "n": 18.2, "c": 468}, {"t": "0.2 C", "n": 23.1, "c": 1380}]},
          "mark": {"type": "text", "fontSize": 6.5},
          "encoding": {"x": {"field": "n", "type": "quantitative"}, "y": {"field": "c", "type": "quantitative"}, "text": {"field": "t"}}
        },
        {
          "data": {"values": [{"t": "30°C\u00a0\u00a0\u00a0\u00a0S loading: 1.5 mg cm⁻²", "n": 1.6, "c": 1673}]},
          "mark": {"type": "text", "align": "left"},
          "encoding": {"x": {"field": "n", "type": "quantitative"}, "y": {"field": "c", "type": "quantitative"}, "text": {"field": "t"}}
        }
      ]
    },
    {
      "width": 246, "height": 128,
      "title": {"text": "f", "dx": -41, "offset": -9},
      "layer": [
        {
          "data": {"name": "f"},
          "transform": [{"fold": ["a", "b"], "as": ["s", "cap"]}],
          "mark": {"type": "point", "filled": true, "size": 34, "stroke": "white", "strokeWidth": 0.4, "opacity": 1},
          "encoding": {
            "x": {"field": "n", "type": "quantitative", "scale": {"domain": [0, 500]}, "axis": {"values": [0, 100, 200, 300, 400, 500], "tickCount": 20, "format": "d", "title": "Cycle number"}},
            "y": {"field": "cap", "type": "quantitative", "scale": {"domain": [0, 1800]}, "axis": {"values": [0, 400, 800, 1200, 1600], "tickCount": 20, "format": "d", "title": "Specific capacity (mAh g⁻¹)", "titlePadding": 5}},
            "color": {"field": "s", "type": "nominal", "scale": {"domain": ["a", "b"], "range": ["#1f6fb8", "#ea2a2a"]}, "legend": {"title": null, "orient": "bottom-left", "symbolType": "circle", "symbolSize": 45, "labelExpr": "datum.value == 'a' ? 'CNT-S-LPSC' : 'CNT@Co/S-LPSC'"}}
          }
        },
        {
          "data": {"name": "f"},
          "transform": [{"fold": ["p", "q"], "as": ["s2", "ce"]}],
          "mark": {"type": "point", "filled": true, "size": 34, "stroke": "white", "strokeWidth": 0.4, "opacity": 1},
          "encoding": {
            "x": {"field": "n", "type": "quantitative"},
            "y": {"field": "ce", "type": "quantitative", "scale": {"domain": [0, 108]}, "axis": {"orient": "right", "values": [0, 20, 40, 60, 80, 100], "tickCount": 20, "format": "d", "title": "Coulombic efficiency (%)", "titleAngle": 270, "titleBaseline": "top", "titlePadding": 3}},
            "color": {"field": "s2", "type": "nominal", "scale": {"domain": ["p", "q"], "range": ["#1f6fb8", "#ea2a2a"]}, "legend": null}
          }
        },
        {"data": {"values": [{"t": "0.5 C\u00a0\u00a0\u00a0\u00a0\u00a0\u00a030°C\u00a0\u00a0\u00a0\u00a0S loading: 0.7 mg cm⁻²", "x": 12, "y": 1420}]}, "mark": {"type": "text", "align": "left"}, "encoding": {"x": {"field": "x", "type": "quantitative"}, "y": {"field": "y", "type": "quantitative", "scale": {"domain": [0, 1800]}, "axis": null}, "text": {"field": "t"}}}
      ],
      "resolve": {"scale": {"y": "independent", "color": "independent"}}
    },
    {
      "width": 155, "height": 128,
      "title": {"text": "g", "dx": -31, "offset": -8.5},
      "layer": [
        {
          "data": {"name": "g"},
          "transform": [{"fold": ["a", "b"], "as": ["s", "cap"]}],
          "mark": {"type": "point", "filled": true, "size": 32, "stroke": "white", "strokeWidth": 0.5, "opacity": 1},
          "encoding": {
            "x": {"field": "n", "type": "quantitative", "scale": {"domain": [0, 100]}, "axis": {"values": [0, 20, 40, 60, 80, 100], "tickCount": 20, "format": "d", "title": "Cycle number"}},
            "y": {"field": "cap", "type": "quantitative", "scale": {"domain": [0, 1600]}, "axis": {"values": [0, 400, 800, 1200, 1600], "tickCount": 20, "format": "d", "title": "Specific capacity (mAh g⁻¹)", "titlePadding": 4}},
            "color": {"field": "s", "type": "nominal", "scale": {"domain": ["a", "b"], "range": ["#1f6fb8", "#ea2a2a"]}, "legend": {"title": null, "orient": "bottom-left", "symbolType": "circle", "symbolSize": 45, "labelExpr": "datum.value == 'a' ? 'CNT-S-LPSC' : 'CNT@Co/S-LPSC'"}}
          }
        },
        {
          "data": {"name": "g"},
          "transform": [{"fold": ["p", "q"], "as": ["s2", "ce"]}],
          "mark": {"type": "point", "filled": true, "size": 32, "stroke": "white", "strokeWidth": 0.5, "opacity": 1},
          "encoding": {
            "x": {"field": "n", "type": "quantitative"},
            "y": {"field": "ce", "type": "quantitative", "scale": {"domain": [0, 110]}, "axis": {"orient": "right", "values": [0, 20, 40, 60, 80, 100], "tickCount": 20, "format": "d", "title": "Coulombic efficiency (%)", "titleAngle": 270, "titleBaseline": "top", "titlePadding": 3}},
            "color": {"field": "s2", "type": "nominal", "scale": {"domain": ["p", "q"], "range": ["#1f6fb8", "#ea2a2a"]}, "legend": null}
          }
        },
        {"data": {"values": [{"t": "0.2C\u00a0\u00a030°C\u00a0\u00a0\u00a0\u00a0\u00a0\u00a0S loading: 3mg cm⁻²", "x": 9, "y": 1285}]}, "mark": {"type": "text", "align": "left"}, "encoding": {"x": {"field": "x", "type": "quantitative"}, "y": {"field": "y", "type": "quantitative", "scale": {"domain": [0, 1600]}, "axis": null}, "text": {"field": "t"}}}
      ],
      "resolve": {"scale": {"y": "independent", "color": "independent"}}
    },
    {
      "width": 155, "height": 128,
      "title": {"text": "h", "dx": -45, "offset": -8.5},
      "layer": [
        {
          "data": {"name": "h"},
          "transform": [{"fold": ["a", "b"], "as": ["s", "cap"]}],
          "mark": {"type": "point", "filled": true, "size": 30, "stroke": "white", "strokeWidth": 0.6, "opacity": 1},
          "encoding": {
            "x": {"field": "n", "type": "quantitative", "scale": {"domain": [0, 60]}, "axis": {"values": [0, 15, 30, 45, 60], "tickCount": 20, "format": "d", "title": "Cycle number"}},
            "y": {"field": "cap", "type": "quantitative", "scale": {"domain": [0, 2000]}, "axis": {"values": [0, 400, 800, 1200, 1600, 2000], "tickCount": 20, "format": "d", "title": "Specific capacity (mAh g⁻¹)", "titlePadding": 5}},
            "color": {"field": "s", "type": "nominal", "scale": {"domain": ["a", "b"], "range": ["#1f6fb8", "#ea2a2a"]}, "legend": {"title": null, "orient": "bottom-left", "symbolType": "circle", "symbolSize": 45, "labelExpr": "datum.value == 'a' ? 'CNT-S' : 'CNT@Co/S'"}}
          }
        },
        {
          "data": {"name": "h"},
          "transform": [{"fold": ["p", "q"], "as": ["s2", "ce"]}],
          "mark": {"type": "point", "filled": true, "size": 30, "stroke": "white", "strokeWidth": 0.6, "opacity": 1},
          "encoding": {
            "x": {"field": "n", "type": "quantitative"},
            "y": {"field": "ce", "type": "quantitative", "scale": {"domain": [0, 110]}, "axis": {"orient": "right", "values": [0, 20, 40, 60, 80, 100], "tickCount": 20, "format": "d", "title": "Coulombic efficiency (%)", "titleAngle": 270, "titleBaseline": "top", "titlePadding": 3}},
            "color": {"field": "s2", "type": "nominal", "scale": {"domain": ["p", "q"], "range": ["#1f6fb8", "#ea2a2a"]}, "legend": null}
          }
        },
        {"data": {"values": [{"t": "0.1 C\u00a0\u00a0\u00a0\u00a0\u00a050°C\u00a0\u00a0\u00a0\u00a0\u00a0S loading: 0.7 mg cm⁻²", "x": 3.4, "y": 1640}]}, "mark": {"type": "text", "align": "left"}, "encoding": {"x": {"field": "x", "type": "quantitative"}, "y": {"field": "y", "type": "quantitative", "scale": {"domain": [0, 2000]}, "axis": null}, "text": {"field": "t"}}}
      ],
      "resolve": {"scale": {"y": "independent", "color": "independent"}}
    },
    {
      "width": 246, "height": 128,
      "title": {"text": "i", "dx": -41, "offset": -8.5},
      "layer": [
        {
          "data": {"name": "i"},
          "mark": {"type": "point", "filled": false, "strokeWidth": 2, "opacity": 1},
          "encoding": {
            "x": {"field": "n", "type": "quantitative", "scale": {"domain": [0, 850]}, "axis": {"values": [0, 200, 400, 600, 800], "tickCount": 20, "format": "d", "title": "Cycle number"}},
            "y": {"field": "r", "type": "quantitative", "scale": {"domain": [40, 100]}, "axis": {"values": [40, 50, 60, 70, 80, 90, 100], "tickCount": 20, "format": "d", "title": "Capacity retention (%)", "titlePadding": 2}},
            "size": {"field": "cap", "type": "quantitative", "scale": {"type": "pow", "exponent": 2, "domain": [0, 1500], "range": [0, 150]}, "legend": null},
            "color": {"field": "ref", "type": "nominal", "scale": {"domain": ["This work", "ref.41", "ref.42", "ref.38", "ref.39", "ref.43", "ref.45", "ref.47", "ref.46", "ref.34", "ref.35", "ref.40", "ref.37", "ref.44", "ref.36"], "range": ["#ff1f1f", "#8c4b4b", "#8f8f1e", "#a87fe0", "#d9a520", "#f07a1c", "#6cb02c", "#f59a1c", "#a9d88b", "#555555", "#f03c3c", "#2ec4d0", "#3aa86b", "#5b8fd0", "#2f6fe0"]}, "legend": null}
          }
        },
        {
          "data": {"name": "il"},
          "mark": {"type": "text", "align": "left", "fontSize": 7},
          "encoding": {
            "x": {"field": "lx", "type": "quantitative"},
            "y": {"field": "ly", "type": "quantitative"},
            "text": {"field": "ref"},
            "color": {"field": "ref", "type": "nominal"}
          }
        }
      ]
    }
  ],
  "config": {
    "font": "Liberation Sans",
    "view": {"stroke": "#000000", "strokeWidth": 1.3},
    "axis": {"labelFont": "Liberation Sans", "labelFontSize": 7.5, "labelFontWeight": "bold", "labelColor": "#000000", "titleFont": "Liberation Sans", "titleFontSize": 8.3, "titleFontWeight": "bold", "titleColor": "#000000", "domainColor": "#000000", "domainWidth": 1.3, "tickColor": "#000000", "tickWidth": 1, "tickSize": -3, "labelPadding": 5, "titlePadding": 5, "grid": false, "labelFlush": false, "labelOverlap": false},
    "legend": {"labelFont": "Liberation Sans", "labelFontSize": 7, "labelFontWeight": "bold", "labelColor": "#000000", "padding": 0, "rowPadding": 1.5, "labelOffset": 4, "offset": 5},
    "text": {"font": "Liberation Sans", "fontWeight": "bold", "fontSize": 6, "color": "#000000"},
    "title": {"font": "Liberation Serif", "fontSize": 15, "fontWeight": "bold", "color": "#000000", "anchor": "start", "frame": "group", "baseline": "alphabetic"}
  }
}
